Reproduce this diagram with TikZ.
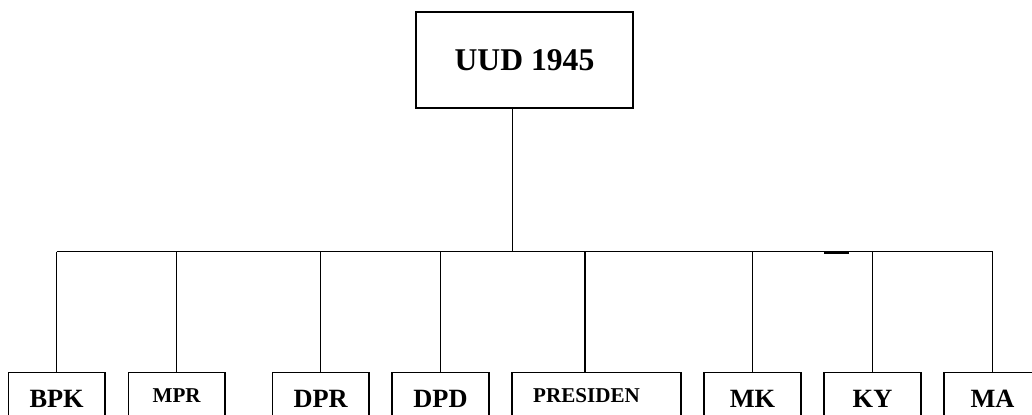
\documentclass[tikz,border=0pt]{standalone}
\usepackage{fontspec}
\setmainfont{Liberation Serif}
\usetikzlibrary{positioning}

\begin{document}
\begin{tikzpicture}[
  topbox/.style={
    draw, line width=0.9pt, minimum width=4.34cm, minimum height=1.92cm,
    font=\fontsize{18}{22}\selectfont\bfseries
  },
  orgbox/.style={
    draw, line width=0.9pt, anchor=north, minimum width=1.93cm,
    inner xsep=0pt, inner ysep=0.36cm, text height=0.34cm, text depth=0.6cm,
    font=\fontsize{15}{18}\selectfont\bfseries
  },
  smallbox/.style={
    orgbox, inner ysep=0.32cm, text height=0.28cm, text depth=0.66cm,
    font=\fontsize{12}{14}\selectfont\bfseries
  },
  conn/.style={line width=0.9pt},
]

%% Page frame (1032 x 414 px)
\clip (0,0) rectangle (20.64,-8.28);

%% Top box
\node[topbox] (uud) at (10.49,-1.2) {UUD 1945};

%% Bar level
\coordinate (bar) at (0,-5.03);

%% Bottom row (boxes run off the lower edge)
\node[orgbox]   (bpk)  at (1.133,-7.43) {BPK};
\node[smallbox] (mpr)  at (3.533,-7.43) {MPR};
\node[orgbox]   (dpr)  at (6.413,-7.43) {DPR};
\node[orgbox]   (dpd)  at (8.81, -7.43) {DPD};
\node[smallbox, minimum width=3.37cm] (pres) at (11.93,-7.43) {PRESIDEN\hspace*{0.4cm}};
\node[orgbox]   (mk)   at (15.05,-7.43) {MK};
\node[orgbox]   (ky)   at (17.45,-7.43) {KY};
\node[orgbox]   (ma)   at (19.85,-7.43) {MA};

%% Trunk and bar
\draw[conn] ([xshift=-0.24cm]uud.south) -- ([xshift=-0.24cm]uud.south |- bar);
\draw[conn] (bpk.north |- bar) -- (ma.north |- bar);

%% Drops
\draw[conn] (bpk.north |- bar) -- (bpk.north);
\draw[conn] (mpr.north |- bar) -- (mpr.north);
\draw[conn] (dpr.north |- bar) -- (dpr.north);
\draw[conn] (dpd.north |- bar) -- (dpd.north);
\draw[conn] ([xshift=-0.23cm]pres.north |- bar) -- ([xshift=-0.23cm]pres.north);
\draw[conn] (mk.north |- bar) -- (mk.north);
\draw[conn] (ky.north |- bar) -- (ky.north);
\draw[conn] (ma.north |- bar) -- (ma.north);

%% Stray mark under the bar
\draw[line width=1.4pt] (16.48,-5.06) -- (16.98,-5.06);

\end{tikzpicture}
\end{document}
